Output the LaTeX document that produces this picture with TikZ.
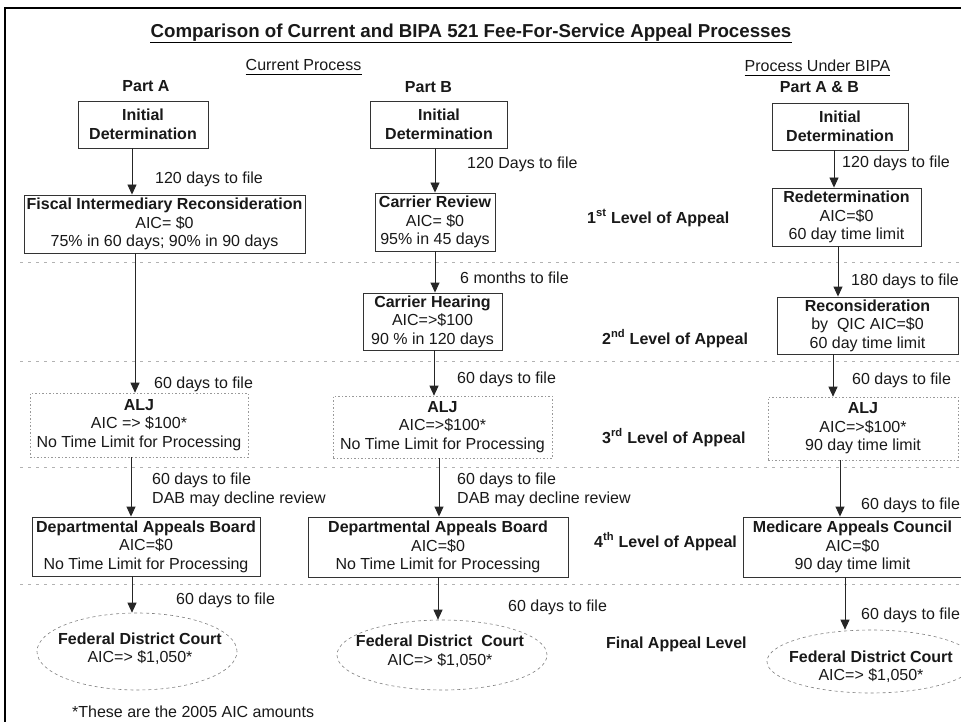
\documentclass[tikz,border=0pt]{standalone}
\usepackage{fontspec}
\setmainfont{Liberation Sans}
\usetikzlibrary{arrows.meta,shapes.geometric}
\begin{document}
\begin{tikzpicture}[x=1pt,y=-1pt,
  every node/.style={font=\fontsize{16}{18.5}\selectfont, text=black!90, inner sep=0pt, align=center},
  box/.style={draw=black!80, line width=0.9pt},
  dbox/.style={draw=black!40, line width=0.6pt, dash pattern=on 1.5pt off 2pt},
  ell/.style={draw=black!50, line width=0.6pt, dash pattern=on 3pt off 3pt, ellipse},
  arr/.style={draw=black!85, line width=0.9pt, -{Triangle[width=9pt,length=10pt]}},
  lbl/.style={anchor=base west},
  lvl/.style={anchor=base west, font=\bfseries\fontsize{16}{18.5}\selectfont},
  hdr/.style={anchor=base, font=\bfseries\fontsize{16}{18.5}\selectfont},
  sep/.style={draw=black!30, line width=0.6pt, dash pattern=on 3pt off 5pt}]
\useasboundingbox (0,0) rectangle (961,722);
\fill[white] (0,0) rectangle (961,722);
% frame
\draw[line width=2.5pt, black] (5,722) -- (5,8) -- (961,8);
% separators
\draw[sep] (20,262) -- (961,262);
\draw[sep] (20,361) -- (961,361);
\draw[sep] (20,467) -- (961,467);
\draw[sep] (20,584) -- (961,584);
% headings
\node[anchor=base, font=\bfseries\fontsize{18.7}{22}\selectfont] (title) at (471,38) {Comparison of Current and BIPA 521 Fee-For-Service Appeal Processes};
\draw[line width=0.9pt] ([yshift=-4pt]title.base west) -- ([yshift=-4pt]title.base east);
\node[anchor=base] (cur) at (303.5,71) {Current Process};
\draw[line width=0.7pt] ([yshift=-3pt]cur.base west) -- ([yshift=-3pt]cur.base east);
\node[anchor=base] (bipa) at (817.5,72) {Process Under BIPA};
\draw[line width=0.7pt] ([yshift=-3pt]bipa.base west) -- ([yshift=-3pt]bipa.base east);
\node[hdr] (pa) at (146,92) {Part A};
\node[hdr] (pb) at (428.5,93) {Part B};
\node[hdr] (pab) at (819.5,93) {Part A \& B};
% column A
\node[box, minimum width=130pt, minimum height=47pt] (idA) at (143,124.5) {\textbf{Initial}\\\textbf{Determination}};
\node[box, minimum width=281pt, minimum height=58pt] (fiA) at (164.5,224) {\textbf{Fiscal Intermediary Reconsideration}\\AIC= \$0\\75\% in 60 days; 90\% in 90 days};
\node[dbox, minimum width=218pt, minimum height=64pt] (aljA) at (139,425) {\textbf{ALJ}\\AIC => \$100*\\No Time Limit for Processing};
\node[box, minimum width=228pt, minimum height=59pt] (dabA) at (146,546.5) {\textbf{Departmental Appeals Board}\\AIC=\$0\\No Time Limit for Processing};
\node[ell, minimum width=200pt, minimum height=77pt] (fdcA) at (137,651.5) {};
\node (fdcAt) at (140,648.5) {\textbf{Federal District Court}\\AIC=> \$1,050*};
\draw[arr] (132,0 |- idA.south) -- (132,0 |- fiA.north);
\draw[arr] (135,0 |- fiA.south) -- (135,0 |- aljA.north);
\draw[arr] (131,0 |- aljA.south) -- (131,0 |- dabA.north);
\draw[arr] (132,0 |- dabA.south) -- (132,0 |- fdcA.north);
\node[lbl] (lA1) at (155,184) {120 days to file};
\node[lbl] (lA2) at (154,388) {60 days to file};
\node[lbl, align=left] (lA3) at (152,503) {60 days to file\\DAB may decline review};
\node[lbl] (lA4) at (176,604) {60 days to file};
% column B
\node[box, minimum width=137pt, minimum height=47pt] (idB) at (439,124.5) {\textbf{Initial}\\\textbf{Determination}};
\node[box, minimum width=120pt, minimum height=58pt] (crB) at (435,222) {\textbf{Carrier Review}\\AIC= \$0\\95\% in 45 days};
\node[box, minimum width=139pt, minimum height=57pt] (chB) at (432.5,321.5) {\textbf{Carrier Hearing}\\AIC=>\$100\\90 \% in 120 days};
\node[dbox, minimum width=219pt, minimum height=62pt] (aljB) at (442.5,427) {\textbf{ALJ}\\AIC=>\$100*\\No Time Limit for Processing};
\node[box, minimum width=260pt, minimum height=60pt] (dabB) at (438,547) {\textbf{Departmental Appeals Board}\\AIC=\$0\\No Time Limit for Processing};
\node[ell, minimum width=210pt, minimum height=70pt] (fdcB) at (442,655) {};
\node (fdcBt) at (440,651) {\textbf{Federal District\ \ Court}\\AIC=> \$1,050*};
\draw[arr] (435,0 |- idB.south) -- (435,0 |- crB.north);
\draw[arr] (435,0 |- crB.south) -- (435,0 |- chB.north);
\draw[arr] (434,0 |- chB.south) -- (434,0 |- aljB.north);
\draw[arr] (439,0 |- aljB.south) -- (439,0 |- dabB.north);
\draw[arr] (438,0 |- dabB.south) -- (438,0 |- fdcB.north);
\node[lbl] (lB1) at (467,169) {120 Days to file};
\node[lbl] (lB2) at (460,283) {6 months to file};
\node[lbl] (lB3) at (457,383) {60 days to file};
\node[lbl, align=left] (lB4) at (457,503) {60 days to file\\DAB may decline review};
\node[lbl] (lB5) at (508,611) {60 days to file};
% column C
\node[box, minimum width=136pt, minimum height=47pt] (idC) at (840,126.5) {\textbf{Initial}\\\textbf{Determination}};
\node[box, minimum width=149pt, minimum height=58pt] (rdC) at (846.5,217) {\textbf{Redetermination}\\AIC=\$0\\60 day time limit};
\node[box, minimum width=181pt, minimum height=57pt] (rcC) at (867.5,325.5) {\textbf{Reconsideration}\\by\ \ QIC AIC=\$0\\60 day time limit};
\node[dbox, minimum width=190pt, minimum height=63pt] (aljC) at (863,428.5) {\textbf{ALJ}\\AIC=>\$100*\\90 day time limit};
\node[box, minimum width=219pt, minimum height=60pt] (macC) at (852.5,547) {\textbf{Medicare Appeals Council}\\AIC=\$0\\90 day time limit};
\node[ell, minimum width=208pt, minimum height=63pt] (fdcC) at (871,661.5) {};
\node (fdcCt) at (871,666.5) {\textbf{Federal District Court}\\AIC=> \$1,050*};
\draw[arr] (834,0 |- idC.south) -- (834,0 |- rdC.north);
\draw[arr] (838,0 |- rdC.south) -- (838,0 |- rcC.north);
\draw[arr] (833,0 |- rcC.south) -- (833,0 |- aljC.north);
\draw[arr] (840,0 |- aljC.south) -- (840,0 |- macC.north);
\draw[arr] (845,0 |- macC.south) -- (845,0 |- fdcC.north);
\node[lbl] (lC1) at (842,168) {120 days to file};
\node[lbl] (lC2) at (851,285) {180 days to file};
\node[lbl] (lC3) at (852,384) {60 days to file};
\node[lbl] (lC4) at (861,509) {60 days to file};
\node[lbl] (lC5) at (861,619) {60 days to file};
% level labels
\node[lvl] (lv1) at (587,223) {1\textsuperscript{st} Level of Appeal};
\node[lvl] (lv2) at (602,344) {2\textsuperscript{nd} Level of Appeal};
\node[lvl] (lv3) at (602,443) {3\textsuperscript{rd} Level of Appeal};
\node[lvl] (lv4) at (594,547) {4\textsuperscript{th} Level of Appeal};
\node[lvl] (lv5) at (606,648) {Final Appeal Level};
% footnote
\node[lbl] (foot) at (72,717) {*These are the 2005 AIC amounts};
\end{tikzpicture}
\end{document}
